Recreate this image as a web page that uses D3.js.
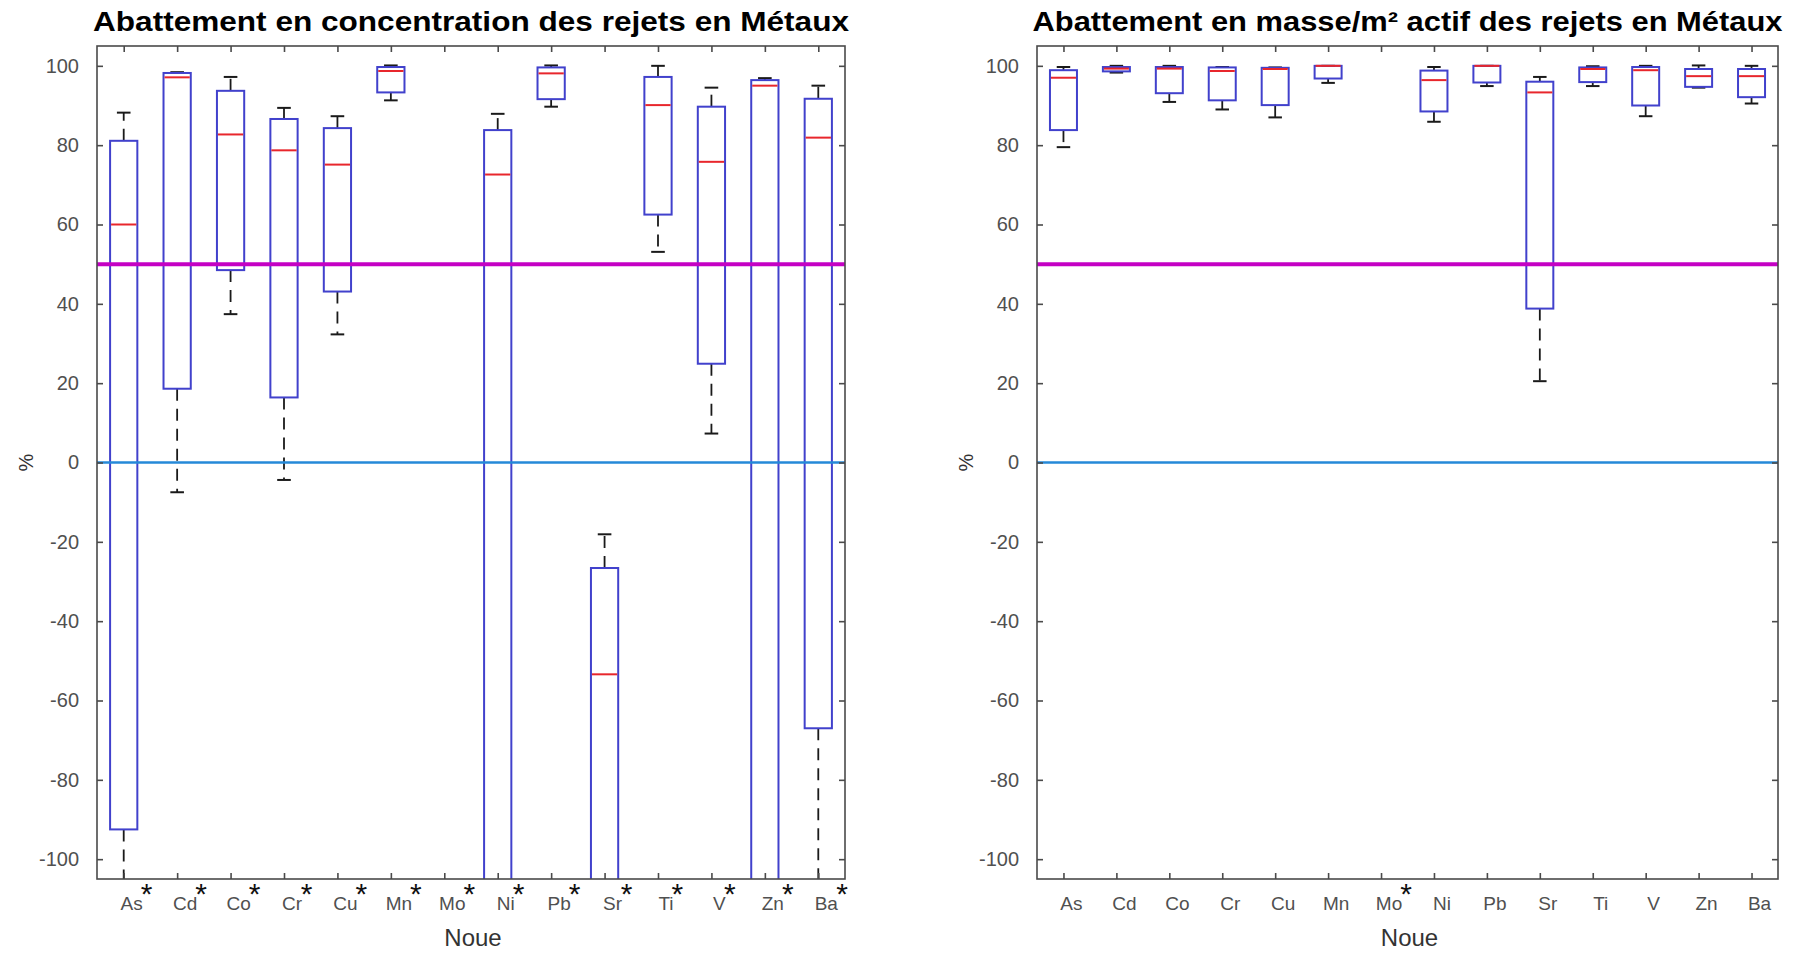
<!DOCTYPE html>
<html>
<head>
<meta charset="utf-8">
<script src="https://cdn.jsdelivr.net/npm/d3@7"></script>
<style>
  body { margin: 0; background: #fff; }
  svg { display: block; }
  text { font-family: "Liberation Sans", Arial, Helvetica, sans-serif; }
</style>
</head>
<body>
<svg id="chart" width="1807" height="955"></svg>
<script>
// ---------- data ----------
const categories = ["As","Cd","Co","Cr","Cu","Mn","Mo","Ni","Pb","Sr","Ti","V","Zn","Ba"];
const yTicks = [-100,-80,-60,-40,-20,0,20,40,60,80,100];

// Concentration (values below -105 lie beyond the axis and are clipped)
const concLow  = [-140, -7.5, 37.4, -4.4, 32.3, 91.3, null, -160, 89.7, -150, 53.1, 7.3, -150, -140];
const concQ1   = [-92.5, 18.6, 48.5, 16.4, 43.1, 93.3, null, -130, 91.6, -120, 62.5, 24.9, -130, -67.0];
const concMed  = [60.0, 97.1, 82.7, 78.7, 75.1, 98.7, null, 72.6, 98.1, -53.4, 90.1, 75.8, 95.0, 81.9];
const concQ3   = [81.1, 98.2, 93.7, 86.6, 84.3, 99.7, null, 83.8, 99.6, -26.6, 97.2, 89.7, 96.4, 91.7];
const concHigh = [88.2, 98.4, 97.2, 89.4, 87.3, 100.1, null, 87.9, 100.1, -18.1, 100.0, 94.5, 96.9, 95.0];
const concStar = [true,true,true,true,true,true,true,true,true,true,true,true,true,true];

// Mass per active m²
const massLow  = [79.5, 98.3, 90.9, 89.0, 87.0, 95.7, null, 85.9, 94.9, 20.5, 94.9, 87.3, 94.5, 90.5];
const massQ1   = [83.8, 98.6, 93.1, 91.3, 90.1, 96.8, null, 88.5, 95.8, 38.8, 95.9, 90.0, 94.7, 92.1];
const massMed  = [97.0, 99.3, 99.3, 98.7, 99.2, 100.0, null, 96.4, 100.0, 93.3, 99.2, 98.9, 97.4, 97.4];
const massQ3   = [98.9, 99.7, 99.7, 99.6, 99.5, 100.0, null, 98.8, 100.0, 96.0, 99.6, 99.7, 99.2, 99.2];
const massHigh = [99.7, 100.0, 100.0, 99.7, 99.6, 100.0, null, 99.7, 100.0, 97.2, 99.9, 100.0, 100.1, 100.0];
const massStar = [false,false,false,false,false,false,true,false,false,false,false,false,false,false];

const refLines = [{v: 50, color: "#c400c4", w: 4}, {v: 0, color: "#2589d8", w: 2.6}];

const titles = ["Abattement en concentration des rejets en Métaux",
                "Abattement en masse/m² actif des rejets en Métaux"];
const xLabel = "Noue";
const yLabel = "%";

// ---------- drawing ----------
const svg = d3.select("#chart");

function panel(idx, x0, x1, low, q1, med, q3, high, star, title, titleW) {
  const top = 46, bottom = 879;
  const x = d3.scaleLinear().domain([0.5, categories.length + 0.5]).range([x0, x1]);
  const y = d3.scaleLinear().domain([-105, 105]).range([bottom, top]);
  const step = x(2) - x(1);
  const bw = step * 0.51;
  const g = svg.append("g");

  const clipId = "clip" + idx;
  svg.append("clipPath").attr("id", clipId)
    .append("rect").attr("x", x0).attr("y", top).attr("width", x1 - x0).attr("height", bottom - top);

  const plot = g.append("g").attr("clip-path", `url(#${clipId})`);
  const data = categories.map((c, i) => ({c, i: i + 1, lo: low[i], q1: q1[i], md: med[i], q3: q3[i], hi: high[i]}))
    .filter(d => d.md !== null);

  // whiskers (dashed)
  plot.selectAll(".wu").data(data).join("line")
    .attr("x1", d => x(d.i)).attr("x2", d => x(d.i))
    .attr("y1", d => y(d.q3)).attr("y2", d => y(d.hi))
    .attr("stroke", "#1a1a1a").attr("stroke-width", 1.8).attr("stroke-dasharray", "12,8");
  plot.selectAll(".wl").data(data).join("line")
    .attr("x1", d => x(d.i)).attr("x2", d => x(d.i))
    .attr("y1", d => y(d.q1)).attr("y2", d => y(d.lo))
    .attr("stroke", "#1a1a1a").attr("stroke-width", 1.8).attr("stroke-dasharray", "12,8");
  // caps
  plot.selectAll(".cu").data(data).join("line")
    .attr("x1", d => x(d.i) - bw / 4).attr("x2", d => x(d.i) + bw / 4)
    .attr("y1", d => y(d.hi)).attr("y2", d => y(d.hi))
    .attr("stroke", "#1a1a1a").attr("stroke-width", 2);
  plot.selectAll(".cl").data(data).join("line")
    .attr("x1", d => x(d.i) - bw / 4).attr("x2", d => x(d.i) + bw / 4)
    .attr("y1", d => y(d.lo)).attr("y2", d => y(d.lo))
    .attr("stroke", "#1a1a1a").attr("stroke-width", 2);
  // boxes
  plot.selectAll(".box").data(data).join("rect")
    .attr("x", d => x(d.i) - bw / 2).attr("width", bw)
    .attr("y", d => y(d.q3)).attr("height", d => Math.max(0.5, y(d.q1) - y(d.q3)))
    .attr("fill", "none").attr("stroke", "#4141cc").attr("stroke-width", 2);
  // medians
  plot.selectAll(".med").data(data).join("line")
    .attr("x1", d => x(d.i) - bw / 2 + 1).attr("x2", d => x(d.i) + bw / 2 - 1)
    .attr("y1", d => y(d.md)).attr("y2", d => y(d.md))
    .attr("stroke", "#e8262c").attr("stroke-width", 2);

  // reference lines
  g.selectAll(".ref").data(refLines).join("line")
    .attr("x1", x0).attr("x2", x1)
    .attr("y1", d => y(d.v)).attr("y2", d => y(d.v))
    .attr("stroke", d => d.color).attr("stroke-width", d => d.w);

  // frame
  const axisColor = "#4a4a4a";
  g.append("rect").attr("x", x0).attr("y", top).attr("width", x1 - x0).attr("height", bottom - top)
    .attr("fill", "none").attr("stroke", axisColor).attr("stroke-width", 1.6);

  // y axis (left, inward ticks) + right mirrored ticks
  const ya = g.append("g").attr("transform", `translate(${x0},0)`)
    .call(d3.axisLeft(y).tickValues(yTicks).tickSize(-6).tickPadding(18).tickFormat(d => String(d)));
  ya.select(".domain").remove();
  ya.selectAll("line").attr("stroke", axisColor).attr("stroke-width", 1.6);
  ya.selectAll("text").attr("fill", "#505050").style("font-size", "20px");
  const yr = g.append("g").attr("transform", `translate(${x1},0)`)
    .call(d3.axisRight(y).tickValues(yTicks).tickSize(-6).tickFormat(""));
  yr.select(".domain").remove();
  yr.selectAll("line").attr("stroke", axisColor).attr("stroke-width", 1.6);

  // x axis ticks bottom + top
  const xt = d3.range(1, categories.length + 1);
  const xb = g.append("g").attr("transform", `translate(0,${bottom})`)
    .call(d3.axisBottom(x).tickValues(xt).tickSize(-6).tickFormat(""));
  xb.select(".domain").remove();
  xb.selectAll("line").attr("stroke", axisColor).attr("stroke-width", 1.6);
  const xtp = g.append("g").attr("transform", `translate(0,${top})`)
    .call(d3.axisTop(x).tickValues(xt).tickSize(-6).tickFormat(""));
  xtp.select(".domain").remove();
  xtp.selectAll("line").attr("stroke", axisColor).attr("stroke-width", 1.6);

  // category labels with optional asterisk
  categories.forEach((c, i) => {
    const t = g.append("text")
      .attr("x", x(i + 1) + 8).attr("y", 910)
      .attr("text-anchor", "middle").attr("fill", "#505050")
      .style("font-size", "19px").text(c);
    if (star[i]) {
      const bb = t.node().getBBox();
      g.append("text").attr("x", bb.x + bb.width - 2).attr("y", 904)
        .attr("fill", "#111").style("font-size", "30px").text("*");
    }
  });

  // axis titles
  g.append("text").attr("x", (x0 + x1) / 2 + 2).attr("y", 946)
    .attr("text-anchor", "middle").attr("fill", "#333").style("font-size", "24px").text(xLabel);
  g.append("text").attr("transform", `translate(${x0 - 64},${y(0)}) rotate(-90)`)
    .attr("text-anchor", "middle").attr("fill", "#333").style("font-size", "20px").text(yLabel);

  // chart title
  g.append("text").attr("x", (x0 + x1) / 2).attr("y", 31)
    .attr("text-anchor", "middle").attr("fill", "#000")
    .style("font-size", "28px").style("font-weight", "bold")
    .attr("textLength", titleW).attr("lengthAdjust", "spacingAndGlyphs")
    .text(title);
}

panel(0, 97, 845, concLow, concQ1, concMed, concQ3, concHigh, concStar, titles[0], 756);
panel(1, 1037, 1778, massLow, massQ1, massMed, massQ3, massHigh, massStar, titles[1], 750);
</script>
</body>
</html>
